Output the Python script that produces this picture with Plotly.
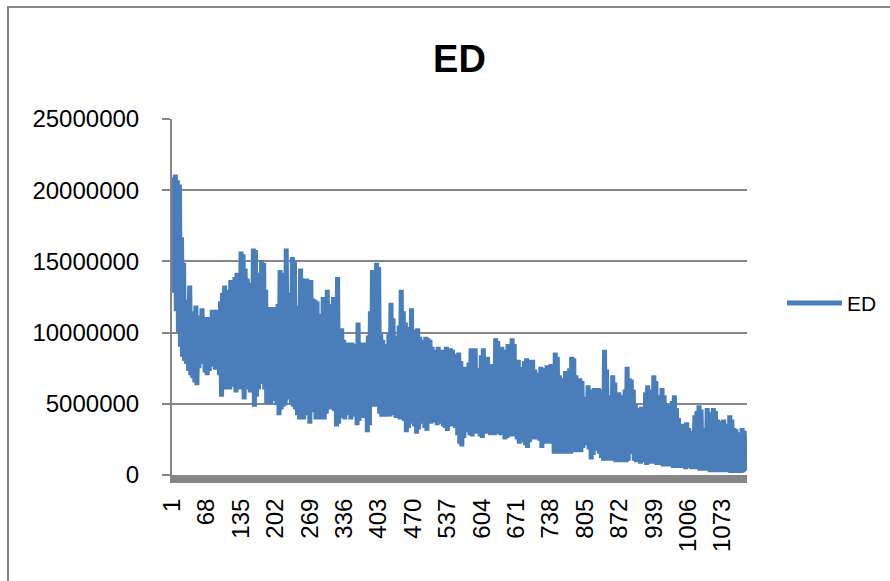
import plotly.graph_objects as go

# ED series (one value for every second category)
ED = [
    15.0e6, 20.9e6, 12.8e6, 21.1e6, 11.5e6, 20.7e6, 10.0e6, 20.4e6, 9.0e6, 16.7e6,
    8.3e6, 14.9e6, 8.0e6, 12.3e6, 7.8e6, 11.8e6, 7.3e6, 13.3e6, 7.0e6, 11.5e6,
    6.8e6, 11.0e6, 6.5e6, 11.9e6, 6.3e6, 10.8e6, 7.5e6, 11.2e6, 7.9e6, 11.7e6,
    7.8e6, 10.9e6, 7.2e6, 11.1e6, 7.0e6, 10.6e6, 7.3e6, 11.1e6, 7.6e6, 11.6e6,
    8.0e6, 11.4e6, 7.4e6, 11.6e6, 7.9e6, 10.9e6, 7.0e6, 12.2e6, 5.5e6, 12.8e6,
    6.4e6, 13.3e6, 6.0e6, 12.6e6, 6.5e6, 13.0e6, 6.0e6, 13.7e6, 6.6e6, 13.5e6,
    6.2e6, 13.9e6, 5.8e6, 14.2e6, 6.5e6, 13.0e6, 6.0e6, 15.7e6, 6.8e6, 15.5e6,
    5.3e6, 14.5e6, 6.0e6, 13.8e6, 6.2e6, 12.5e6, 5.8e6, 13.5e6, 6.3e6, 15.9e6,
    4.8e6, 15.8e6, 5.5e6, 14.2e6, 6.0e6, 14.0e6, 6.4e6, 15.1e6, 6.5e6, 14.9e6,
    6.0e6, 13.0e6, 5.0e6, 11.8e6, 5.2e6, 11.5e6, 5.0e6, 11.8e6, 5.4e6, 11.4e6,
    5.2e6, 11.8e6, 4.9e6, 12.0e6, 4.2e6, 14.4e6, 4.6e6, 13.0e6, 4.8e6, 14.2e6,
    4.9e6, 15.9e6, 5.3e6, 12.4e6, 5.6e6, 12.8e6, 5.0e6, 15.3e6, 4.8e6, 15.1e6,
    4.6e6, 10.5e6, 4.2e6, 11.9e6, 3.9e6, 14.5e6, 4.1e6, 13.2e6, 3.9e6, 13.8e6,
    4.2e6, 13.8e6, 4.5e6, 12.8e6, 3.6e6, 13.7e6, 4.6e6, 12.4e6, 4.4e6, 12.3e6,
    3.9e6, 12.2e6, 4.4e6, 11.3e6, 3.9e6, 10.8e6, 4.0e6, 12.5e6, 3.9e6, 12.3e6,
    4.3e6, 13.0e6, 4.8e6, 12.0e6, 4.6e6, 11.5e6, 4.8e6, 12.5e6, 4.5e6, 11.0e6,
    3.4e6, 13.9e6, 3.6e6, 9.3e6, 4.5e6, 10.3e6, 4.0e6, 9.5e6, 3.9e6, 9.0e6,
    4.2e6, 9.3e6, 4.5e6, 9.0e6, 3.9e6, 9.3e6, 4.6e6, 8.8e6, 4.1e6, 9.2e6,
    3.5e6, 10.7e6, 3.8e6, 9.0e6, 4.4e6, 9.3e6, 4.0e6, 8.9e6, 4.3e6, 9.3e6,
    3.0e6, 9.8e6, 3.5e6, 11.5e6, 4.8e6, 14.4e6, 5.0e6, 12.0e6, 4.8e6, 14.9e6,
    5.2e6, 14.6e6, 4.3e6, 10.0e6, 4.1e6, 9.5e6, 4.5e6, 9.2e6, 4.1e6, 9.0e6,
    4.3e6, 10.0e6, 4.1e6, 12.1e6, 4.5e6, 11.0e6, 4.2e6, 9.6e6, 4.0e6, 9.8e6,
    4.2e6, 10.5e6, 3.9e6, 13.0e6, 4.3e6, 11.5e6, 3.8e6, 10.7e6, 3.0e6, 10.4e6,
    3.3e6, 10.0e6, 3.6e6, 11.7e6, 3.9e6, 10.2e6, 3.4e6, 9.8e6, 2.9e6, 10.3e6,
    3.2e6, 9.7e6, 3.8e6, 9.5e6, 3.6e6, 9.0e6, 3.3e6, 9.7e6, 3.1e6, 9.6e6,
    3.9e6, 9.5e6, 3.6e6, 9.0e6, 3.9e6, 8.6e6, 3.7e6, 8.8e6, 3.5e6, 9.0e6,
    3.9e6, 8.5e6, 3.6e6, 8.8e6, 3.4e6, 8.4e6, 3.3e6, 9.0e6, 3.1e6, 8.7e6,
    3.5e6, 8.9e6, 3.4e6, 8.8e6, 3.6e6, 8.0e6, 3.3e6, 8.5e6, 2.8e6, 8.6e6,
    2.2e6, 8.0e6, 2.0e6, 7.6e6, 2.6e6, 7.4e6, 3.1e6, 7.6e6, 3.0e6, 7.9e6,
    2.8e6, 8.9e6, 2.7e6, 8.7e6, 2.9e6, 8.9e6, 3.1e6, 7.2e6, 2.9e6, 7.5e6,
    2.7e6, 8.4e6, 2.6e6, 8.9e6, 2.9e6, 8.0e6, 3.2e6, 8.3e6, 2.9e6, 7.8e6,
    2.8e6, 6.9e6, 3.0e6, 7.8e6, 2.8e6, 9.6e6, 3.1e6, 9.4e6, 2.9e6, 8.5e6,
    2.8e6, 9.0e6, 2.9e6, 8.6e6, 2.5e6, 8.8e6, 2.6e6, 9.2e6, 2.7e6, 8.4e6,
    2.8e6, 9.6e6, 2.7e6, 9.2e6, 2.9e6, 7.9e6, 2.5e6, 8.1e6, 2.2e6, 7.6e6,
    2.4e6, 7.5e6, 2.3e6, 8.0e6, 2.1e6, 8.2e6, 1.9e6, 7.8e6, 2.3e6, 8.1e6,
    2.6e6, 8.1e6, 2.5e6, 7.4e6, 2.7e6, 7.2e6, 2.5e6, 7.0e6, 2.4e6, 7.6e6,
    1.9e6, 7.5e6, 2.2e6, 7.3e6, 2.4e6, 7.7e6, 2.2e6, 7.4e6, 2.2e6, 7.8e6,
    2.2e6, 7.4e6, 1.5e6, 8.6e6, 1.7e6, 8.3e6, 1.5e6, 7.0e6, 1.6e6, 6.7e6,
    1.5e6, 6.8e6, 1.7e6, 7.3e6, 1.5e6, 7.0e6, 1.6e6, 7.5e6, 1.5e6, 8.3e6,
    1.7e6, 8.2e6, 1.6e6, 7.0e6, 1.8e6, 6.7e6, 1.6e6, 6.8e6, 1.6e6, 6.6e6,
    1.9e6, 5.5e6, 2.1e6, 4.8e6, 2.3e6, 6.3e6, 1.8e6, 6.0e6, 1.1e6, 5.8e6,
    1.4e6, 6.1e6, 1.8e6, 5.9e6, 1.7e6, 6.1e6, 1.5e6, 5.8e6, 1.2e6, 6.0e6,
    1.0e6, 8.8e6, 1.0e6, 7.4e6, 1.1e6, 4.8e6, 1.0e6, 5.6e6, 1.0e6, 7.0e6,
    1.0e6, 6.5e6, 0.9e6, 5.7e6, 1.0e6, 5.8e6, 0.9e6, 5.2e6, 0.9e6, 5.6e6,
    0.9e6, 6.0e6, 0.9e6, 7.6e6, 1.0e6, 6.8e6, 1.8e6, 6.7e6, 1.5e6, 6.0e6,
    1.0e6, 5.0e6, 0.9e6, 4.7e6, 0.9e6, 4.6e6, 0.8e6, 4.8e6, 1.0e6, 4.5e6,
    0.9e6, 5.8e6, 0.7e6, 6.3e6, 0.9e6, 5.5e6, 0.8e6, 6.0e6, 0.8e6, 7.0e6,
    0.8e6, 6.6e6, 0.7e6, 5.4e6, 0.8e6, 5.6e6, 0.7e6, 6.1e6, 0.6e6, 5.6e6,
    0.6e6, 5.0e6, 0.7e6, 4.6e6, 0.6e6, 4.9e6, 0.6e6, 5.2e6, 0.5e6, 5.6e6,
    0.6e6, 4.7e6, 0.5e6, 4.0e6, 0.5e6, 3.6e6, 0.5e6, 3.4e6, 0.5e6, 3.6e6,
    0.4e6, 3.7e6, 0.5e6, 3.3e6, 0.5e6, 2.9e6, 0.4e6, 3.1e6, 0.5e6, 4.2e6,
    0.4e6, 4.5e6, 0.4e6, 4.9e6, 0.3e6, 4.6e6, 0.4e6, 3.3e6, 0.3e6, 3.2e6,
    0.3e6, 4.7e6, 0.3e6, 4.4e6, 0.2e6, 4.2e6, 0.3e6, 4.7e6, 0.2e6, 4.5e6,
    0.2e6, 3.9e6, 0.3e6, 3.6e6, 0.2e6, 3.8e6, 0.2e6, 3.9e6, 0.2e6, 3.6e6,
    0.2e6, 3.5e6, 0.2e6, 4.2e6, 0.15e6, 3.9e6, 0.2e6, 3.3e6, 0.15e6, 3.2e6,
    0.15e6, 2.8e6, 0.2e6, 3.0e6, 0.15e6, 3.3e6, 0.2e6, 3.1e6, 0.3e6, 2.2e6,
]

CATEGORY_COUNT = 1120
X_INDEX = list(range(1, CATEGORY_COUNT, 2))  # category number of each value

X_TICK_VALUES = [1, 68, 135, 202, 269, 336, 403, 470, 537, 604, 671, 738, 805, 872, 939, 1006, 1073]
X_TICK_LABELS = ["1", "68", "135", "202", "269", "336", "403", "470", "537", "604",
                 "671", "738", "805", "872", "939", "1006", "1073"]
Y_TICK_VALUES = [0, 5000000, 10000000, 15000000, 20000000, 25000000]
Y_TICK_LABELS = ["0", "5000000", "10000000", "15000000", "20000000", "25000000"]

SERIES_NAME = "ED"
TITLE = "ED"

BLUE = "#4A7EBB"
GRAY = "#868686"
FONT = "Liberation Sans"

# plot area geometry (pixels) used for paper-relative placement of decorations
L, R, T, B = 172, 747, 119, 475
W, H = R - L, B - T


def px_x(p):
    return (p - L) / W


def px_y(p):
    return (B - p) / H


fig = go.Figure()
fig.add_trace(go.Scatter(
    x=X_INDEX, y=ED, mode="lines", name=SERIES_NAME,
    line=dict(color=BLUE, width=5), showlegend=False, hoverinfo="x+y",
))

fig.update_layout(
    width=890, height=581,
    margin=dict(l=L, r=890 - R, t=T, b=581 - B, pad=0),
    paper_bgcolor="white", plot_bgcolor="white",
    font=dict(family=FONT, color="black"),
    title=dict(text="<b>" + TITLE + "</b>", x=0.5, xref="paper", xanchor="center",
               y=1 - 59 / 581, yanchor="middle", font=dict(size=38, family=FONT, color="black")),
    showlegend=False,
)

fig.update_xaxes(
    range=[0.5, CATEGORY_COUNT + 0.5],
    tickmode="array", tickvals=X_TICK_VALUES, ticktext=X_TICK_LABELS,
    tickangle=-90, tickfont=dict(size=24, family=FONT, color="black"),
    showgrid=False, zeroline=False,
    showline=True, linecolor=GRAY, linewidth=8,
    ticks="", ticklabelstandoff=6,
)
fig.update_yaxes(
    range=[0, 25000000],
    tickmode="array", tickvals=Y_TICK_VALUES, ticktext=Y_TICK_LABELS,
    tickfont=dict(size=24, family=FONT, color="black"),
    showgrid=True, gridcolor=GRAY, gridwidth=2, zeroline=False,
    showline=True, linecolor=GRAY, linewidth=2,
    ticks="outside", ticklen=8, tickwidth=2, tickcolor=GRAY,
    ticklabelstandoff=18,
)

# chart-area border (only its top and left edges fall inside the picture)
fig.add_shape(type="rect", xref="paper", yref="paper",
              x0=px_x(8), x1=px_x(940), y0=px_y(640), y1=px_y(7),
              line=dict(color=GRAY, width=2), fillcolor="rgba(0,0,0,0)", layer="below")

# legend entry
legend_y = px_y(303)
fig.add_shape(type="line", xref="paper", yref="paper",
              x0=px_x(787), x1=px_x(842), y0=legend_y, y1=legend_y,
              line=dict(color=BLUE, width=5))
fig.add_annotation(xref="paper", yref="paper", x=px_x(845), y=legend_y,
                   text=SERIES_NAME, showarrow=False, xanchor="left", yanchor="middle",
                   font=dict(size=21, family=FONT, color="black"))

fig.write_html("out.html")
